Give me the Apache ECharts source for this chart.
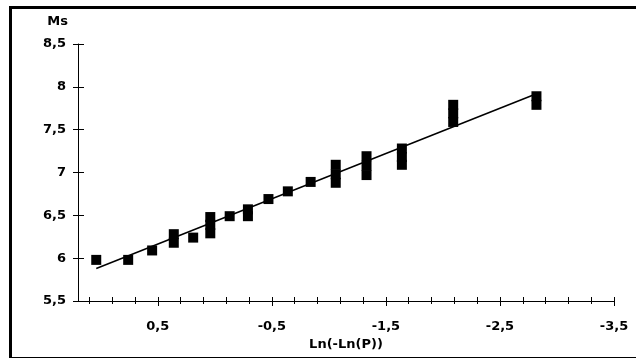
<!DOCTYPE html>
<html>
<head>
<meta charset="utf-8">
<script src="https://cdn.jsdelivr.net/npm/echarts@6/dist/echarts.min.js"></script>
<style>
html,body{margin:0;padding:0;background:#fff;}
#chart{width:636px;height:358px;}
</style>
</head>
<body>
<div id="chart"></div>
<script>
// Observations: Ln(-Ln(P)) vs Ms
var pointX = [1.04, 0.76, 0.55, 0.36, 0.36, 0.19, 0.04, 0.04, 0.04, -0.13, -0.29, -0.29, -0.47, -0.64, -0.84, -1.06, -1.06, -1.06, -1.33, -1.33, -1.33, -1.64, -1.64, -1.64, -2.09, -2.09, -2.09, -2.82, -2.82];
var pointY = [5.98, 5.98, 6.09, 6.18, 6.28, 6.24, 6.29, 6.39, 6.48, 6.49, 6.49, 6.57, 6.69, 6.78, 6.89, 6.88, 6.98, 7.09, 6.97, 7.08, 7.19, 7.09, 7.18, 7.28, 7.59, 7.69, 7.79, 7.79, 7.89];
// Fitted line end points
var lineX = [1.04, -2.82];
var lineY = [5.88, 7.92];
// Axis ticks
var xMajorTicks = [0.5, -0.5, -1.5, -2.5, -3.5];
var xAllTicks = [1.1, 0.9, 0.7, 0.5, 0.3, 0.1, -0.1, -0.3, -0.5, -0.7, -0.9, -1.1, -1.3, -1.5, -1.7, -1.9, -2.1, -2.3, -2.5, -2.7, -2.9, -3.1, -3.3, -3.5];
var yTicks = [5.5, 6, 6.5, 7, 7.5, 8, 8.5];

var FONT = 'DejaVu Sans';
function fmt(v){ return String(Math.round(v*10)/10).replace('.', ','); }

var scatterData = pointX.map(function(x, i){ return [x, pointY[i]]; });
var lineData = lineX.map(function(x, i){ return [x, lineY[i]]; });

var chart = echarts.init(document.getElementById('chart'), null, {renderer: 'canvas'});
var axisLine = {show: true, onZero: false, lineStyle: {color: '#000', width: 1}};
var noLine = {show: false, onZero: false};
var baseX = {
  type: 'value', min: -3.5, max: 1.2, inverse: true, position: 'bottom',
  splitLine: {show: false}
};
var baseY = {
  type: 'value', min: 5.5, max: 8.5, interval: 0.5, position: 'left',
  splitLine: {show: false}
};
chart.setOption({
  animation: false,
  backgroundColor: '#fff',
  grid: {left: 78, right: 22, top: 44, bottom: 57, containLabel: false},
  xAxis: [
    Object.assign({}, baseX, {
      axisLine: axisLine,
      axisTick: {show: true, inside: false, length: 3, customValues: xAllTicks, lineStyle: {color: '#000'}},
      axisLabel: {show: true, customValues: xMajorTicks, margin: 19, formatter: fmt,
        fontFamily: FONT, fontWeight: 'bold', fontSize: 13, color: '#000'},
      name: 'Ln(-Ln(P))', nameLocation: 'middle', nameGap: 35,
      nameTextStyle: {fontFamily: FONT, fontWeight: 'bold', fontSize: 13, color: '#000'}
    }),
    Object.assign({}, baseX, {
      axisLine: noLine,
      axisTick: {show: true, inside: true, length: 4, customValues: xAllTicks, lineStyle: {color: '#000'}},
      axisLabel: {show: false}
    }),
    Object.assign({}, baseX, {
      axisLine: noLine,
      axisTick: {show: true, inside: false, length: 5, customValues: xMajorTicks, lineStyle: {color: '#000'}},
      axisLabel: {show: false}
    })
  ],
  yAxis: [
    Object.assign({}, baseY, {
      axisLine: axisLine,
      axisTick: {show: true, inside: false, length: 5, customValues: yTicks, lineStyle: {color: '#000'}},
      axisLabel: {show: true, margin: 12, formatter: fmt, customValues: yTicks,
        fontFamily: FONT, fontWeight: 'bold', fontSize: 13, color: '#000'},
      name: 'Ms', nameLocation: 'end', nameGap: 22,
      nameTextStyle: {fontFamily: FONT, fontWeight: 'bold', fontSize: 13, color: '#000',
        align: 'right', verticalAlign: 'middle', padding: [0, 10, 0, 0]}
    }),
    Object.assign({}, baseY, {
      axisLine: noLine,
      axisTick: {show: true, inside: true, length: 6, customValues: yTicks, lineStyle: {color: '#000'}},
      axisLabel: {show: false}
    })
  ],
  graphic: [{
    type: 'rect', silent: true, z: 100,
    shape: {x: 10.5, y: 7.5, width: 700, height: 351},
    style: {fill: 'none', stroke: '#000', lineWidth: 3}
  }],
  series: [
    {
      type: 'line', data: lineData, xAxisIndex: 0, yAxisIndex: 0,
      showSymbol: false, symbol: 'none',
      lineStyle: {color: '#000', width: 1.5}, z: 2
    },
    {
      type: 'scatter', data: scatterData, xAxisIndex: 0, yAxisIndex: 0,
      symbol: 'rect', symbolSize: 10,
      itemStyle: {color: '#000', opacity: 1}, z: 3
    }
  ]
});
</script>
</body>
</html>
